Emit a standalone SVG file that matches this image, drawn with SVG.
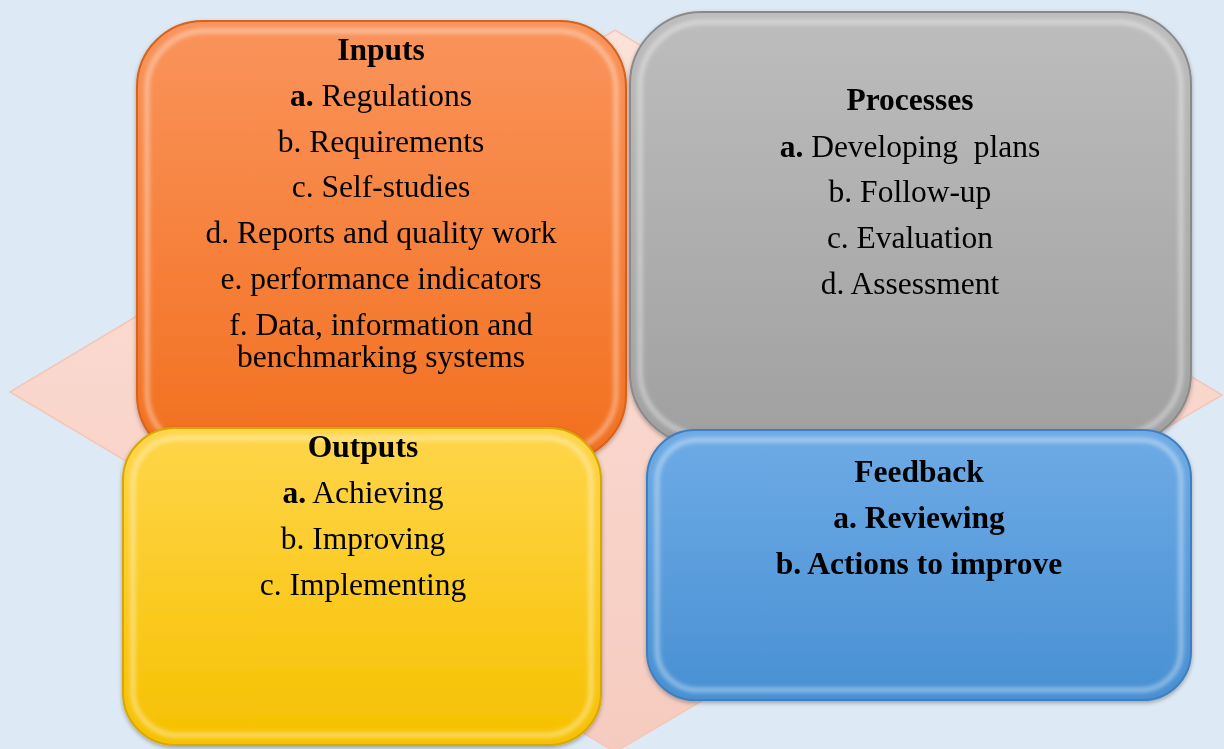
<svg xmlns="http://www.w3.org/2000/svg" width="1224" height="749" viewBox="0 0 1224 749">
<defs>
<linearGradient id="gOrange" x1="0" y1="0" x2="0" y2="1"><stop offset="0" stop-color="#fa945c"/><stop offset="1" stop-color="#f26f1e"/></linearGradient>
<linearGradient id="gGray" x1="0" y1="0" x2="0" y2="1"><stop offset="0" stop-color="#bdbdbd"/><stop offset="1" stop-color="#a0a0a0"/></linearGradient>
<linearGradient id="gYellow" x1="0" y1="0" x2="0" y2="1"><stop offset="0" stop-color="#ffd54a"/><stop offset="1" stop-color="#f6c100"/></linearGradient>
<linearGradient id="gBlue" x1="0" y1="0" x2="0" y2="1"><stop offset="0" stop-color="#6eabe6"/><stop offset="1" stop-color="#4890d3"/></linearGradient>
<linearGradient id="gPink" x1="0" y1="0" x2="0" y2="1"><stop offset="0" stop-color="#fde2da"/><stop offset="1" stop-color="#f6cbbf"/></linearGradient>
<filter id="sh" x="-10%" y="-10%" width="120%" height="120%"><feDropShadow dx="0" dy="2" stdDeviation="2" flood-color="#000" flood-opacity="0.3"/></filter>
<filter id="bl" x="-5%" y="-5%" width="110%" height="110%"><feGaussianBlur stdDeviation="2"/></filter>
</defs>
<style>
text{font-family:"Liberation Serif","Times New Roman",serif;font-size:31.5px;fill:#000;text-anchor:middle}
.b{font-weight:bold}
.hl{fill:none;stroke:#fff;stroke-opacity:0.4;stroke-width:5;filter:url(#bl)}
</style>
<rect x="0" y="0" width="1224" height="749" fill="#dde9f5"/>
<g id="diamond">
<polygon points="10,392 615,30 1222,395 615,752" fill="url(#gPink)" stroke="#f3c6b8" stroke-width="1.5"/>
</g>
<g id="inputs" filter="url(#sh)">
<rect x="137" y="21" width="489" height="440" rx="66" fill="url(#gOrange)" stroke="#d6621c" stroke-width="2"/>
<rect x="147" y="31" width="469" height="420" rx="58" class="hl"/>
<text x="381" y="60" class="b">Inputs</text>
<text x="381" y="106"><tspan class="b">a.</tspan> Regulations</text>
<text x="381" y="152">b. Requirements</text>
<text x="381" y="197">c. Self-studies</text>
<text x="381" y="243">d. Reports and quality work</text>
<text x="381" y="289">e. performance indicators</text>
<text x="381" y="335">f. Data, information and</text>
<text x="381" y="367">benchmarking systems</text>
</g>
<g id="processes" filter="url(#sh)">
<rect x="630" y="12" width="561" height="433" rx="72" fill="url(#gGray)" stroke="#8a8a8a" stroke-width="2"/>
<rect x="640" y="22" width="541" height="413" rx="64" class="hl"/>
<text x="910" y="110" class="b">Processes</text>
<text x="910" y="157" xml:space="preserve"><tspan class="b">a.</tspan> Developing  plans</text>
<text x="910" y="202">b. Follow-up</text>
<text x="910" y="248">c. Evaluation</text>
<text x="910" y="294">d. Assessment</text>
</g>
<g id="outputs" filter="url(#sh)">
<rect x="123" y="428" width="478" height="317" rx="52" fill="url(#gYellow)" stroke="#d9a800" stroke-width="2"/>
<rect x="133" y="438" width="458" height="297" rx="44" class="hl"/>
<text x="363" y="457" class="b">Outputs</text>
<text x="363" y="503"><tspan class="b">a.</tspan> Achieving</text>
<text x="363" y="549">b. Improving</text>
<text x="363" y="595">c. Implementing</text>
</g>
<g id="feedback" filter="url(#sh)">
<rect x="647" y="430" width="544" height="270" rx="48" fill="url(#gBlue)" stroke="#3f7fbf" stroke-width="2"/>
<rect x="657" y="440" width="524" height="250" rx="40" class="hl"/>
<text x="919" y="482" class="b">Feedback</text>
<text x="919" y="528" class="b">a. Reviewing</text>
<text x="919" y="574" class="b">b. Actions to improve</text>
</g>
</svg>
